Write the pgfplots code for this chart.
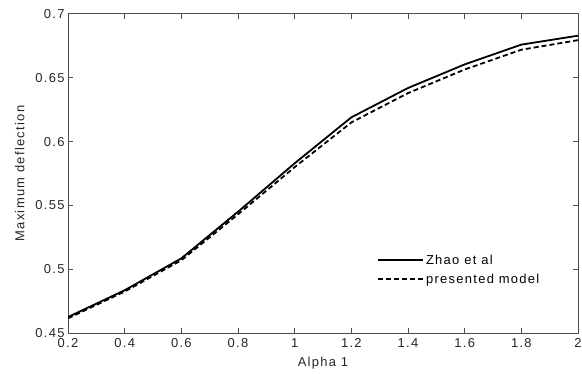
\documentclass[border=0pt]{standalone}
\usepackage{pgfplots}
\pgfplotsset{compat=1.18}
\usepackage{fontspec}
\setmainfont{Liberation Sans}[LetterSpace=10]
\pgfplotsset{/pgf/number format/assume math mode=true}
\begin{document}
\begin{tikzpicture}
\useasboundingbox (0,0) rectangle (582bp,374bp);
\begin{axis}[
  at={(68bp,41bp)}, anchor=south west,
  scale only axis, width=510bp, height=319bp,
  xmin=0.2, xmax=2, ymin=0.45, ymax=0.7,
  xtick={0.2,0.4,...,2.01},
  ytick={0.45,0.5,...,0.701},
  xticklabels={0.2,0.4,0.6,0.8,1,1.2,1.4,1.6,1.8,2},
  yticklabels={0.45,0.5,0.55,0.6,0.65,0.7},
  tick align=inside,
  major tick length=5bp,
  axis line style={draw=black!70, line width=1bp},
  every tick/.style={draw=black!70, line width=1bp},
  tick label style={font=\fontsize{13}{15}\selectfont, text=black!85},
  xticklabel style={yshift=-2bp},
  label style={font=\fontsize{13}{15}\selectfont, text=black!85},
  xlabel={Alpha 1},
  ylabel={Maximum deflection},
  xlabel style={yshift=-3bp},
  ylabel style={yshift=4bp},
  legend style={draw=none, fill=none, at={(axis cs:1.29,0.4995)}, anchor=west,
    font=\fontsize{13}{15}\selectfont, row sep=4bp, inner sep=0pt,
    nodes={inner sep=2bp}},
  legend cell align=left,
  legend image code/.code={\draw[line width=2bp, #1] (0bp,0bp) -- (45bp,0bp);},
]
\addplot[black, line width=1.8bp] coordinates {
(0.2,0.4625) (0.4,0.4835) (0.6,0.5085) (0.8,0.5450) (1.0,0.5830)
(1.2,0.6190) (1.4,0.6420) (1.6,0.6605) (1.8,0.6760) (2.0,0.6830)};
\addlegendentry{Zhao et al}
\addplot[black, line width=1.8bp, dash pattern=on 5bp off 3bp] coordinates {
(0.2,0.4615) (0.4,0.4825) (0.6,0.5070) (0.8,0.5430) (1.0,0.5800)
(1.2,0.6150) (1.4,0.6380) (1.6,0.6565) (1.8,0.6720) (2.0,0.6795)};
\addlegendentry{presented model}
\end{axis}
\end{tikzpicture}
\end{document}
